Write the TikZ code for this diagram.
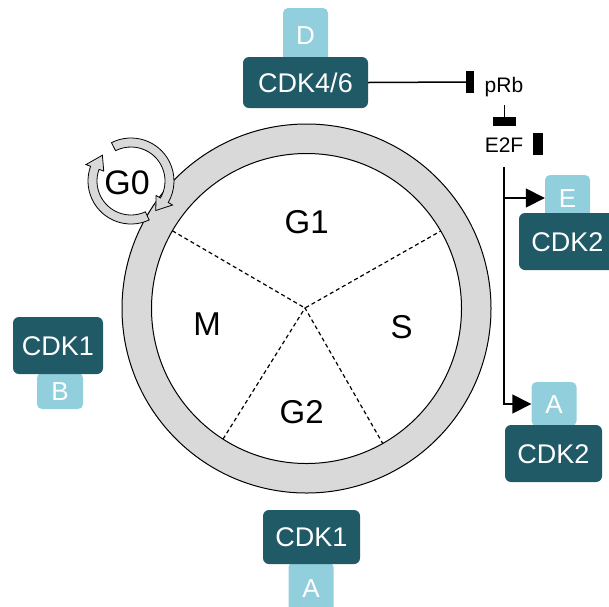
\documentclass[tikz,border=0pt]{standalone}
\usepackage{fontspec}
\setmainfont{Liberation Sans}
\usetikzlibrary{arrows.meta}
\definecolor{tealdark}{HTML}{1F5A66}
\definecolor{lblue}{HTML}{92CFDC}
\definecolor{ringgray}{HTML}{D9D9D9}
\begin{document}
\begin{tikzpicture}[x=1pt,y=-1pt,
  darkbox/.style={rectangle, rounded corners=6pt, fill=tealdark, text=white, inner sep=0pt,
    font=\fontsize{27}{32}\selectfont, text height=19.3pt, text depth=0pt},
  lightbox/.style={rectangle, rounded corners=5pt, fill=lblue, text=white, inner sep=0pt,
    font=\fontsize{26}{31}\selectfont, text height=18.6pt, text depth=0pt, minimum width=45pt},
  phase/.style={font=\fontsize{33}{40}\selectfont, text height=23.6pt, text depth=0pt, inner sep=0pt},
  smalltxt/.style={font=\fontsize{21}{25}\selectfont, text height=15pt, text depth=0pt, inner sep=0pt},
  barbox/.style={rectangle, fill=black, inner sep=0pt},
  conn/.style={line width=1.5pt},
  divider/.style={line width=1.2pt, dash pattern=on 4pt off 3pt},
  g0arrow/.style={fill=ringgray, draw=black, line width=0.8pt},
  tipA/.style={-{Triangle[length=19pt,width=19pt]}}
]
\clip (0,0) rectangle (609,606);

% cell cycle ring
\coordinate (c) at (306.5,308.5);
\fill[ringgray, even odd rule] (c) circle[radius=184.5pt] (c) circle[radius=155pt];
\draw[line width=1pt] (c) circle[radius=184.5pt];
\draw[line width=1pt] (c) circle[radius=155pt];

% dividers
\coordinate (hub) at (305,308);
\coordinate (d1) at (172.4,230.8);
\coordinate (d2) at (440.7,231);
\coordinate (d3) at (223,439.1);
\coordinate (d4) at (382.7,443.4);
\draw[divider] (d1) -- (hub) -- (d2);
\draw[divider] (d3) -- (hub) -- (d4);

% phase labels
\node[phase] (g1) at (306.7,221.7) {G1};
\node[phase] (m) at (207,324) {M};
\node[phase] (s) at (401.7,326.7) {S};
\node[phase] (g2) at (301.7,411.7) {G2};

% G0 circular arrows
\begin{scope}[shift={(131,181)}, yscale=-1]
  \path[g0arrow] (117:43) arc[start angle=117, end angle=-30, radius=43]
     -- (-30:48) -- (-50:38.5) -- (-30:29) -- (-30:34)
     arc[start angle=-30, end angle=117, radius=34] -- cycle;
  \path[g0arrow] (-65:43) arc[start angle=-65, end angle=-200, radius=43]
     -- (-200:48) -- (-222:38.5) -- (-200:29) -- (-200:34)
     arc[start angle=-200, end angle=-65, radius=34] -- cycle;
\end{scope}
\node[phase, font=\fontsize{34}{40}\selectfont, text height=24.3pt] (g0) at (127,182) {G0};

% complexes
\node[lightbox, minimum height=54pt] (dbox) at (305.5,35) {D};
\node[darkbox, minimum width=125pt, minimum height=51pt] (cdk46) at (305.5,82.5) {CDK4/6};

\node[lightbox, minimum height=46pt] (ebox) at (567.5,198) {E};
\node[darkbox, minimum width=97pt, minimum height=57pt] (cdk2a) at (567.5,241.5) {CDK2};

\node[lightbox, minimum height=44pt] (abox) at (554,404) {A};
\node[darkbox, minimum width=97pt, minimum height=57pt] (cdk2b) at (553.5,453.5) {CDK2};

\node[lightbox, minimum width=46pt, minimum height=36pt] (bbox) at (60,391) {B};
\node[darkbox, minimum width=90pt, minimum height=57pt] (cdk1a) at (58,345.5) {CDK1};

\node[lightbox, minimum height=52pt] (abox2) at (311,588) {A};
\node[darkbox, minimum width=97pt, minimum height=54pt] (cdk1b) at (311.5,537) {CDK1};

% pRb / E2F
\node[barbox, minimum width=8pt, minimum height=22pt] (prbbar) at (470,82) {};
\node[smalltxt] (prb) at (504,84.7) {pRb};
\node[barbox, minimum width=23pt, minimum height=9pt] (tbar) at (504.5,121.5) {};
\node[smalltxt] (e2f) at (504,145) {E2F};
\node[barbox, minimum width=10pt, minimum height=22pt] (e2fbar) at (538,144) {};

\draw[conn] (cdk46.east) -- (prbbar.west);
\coordinate (prbfoot) at (504.5,105);
\draw[conn] (prbfoot) -- (tbar.north);

\coordinate (trunk) at (504,167);
\draw[conn, tipA] (trunk) |- (abox.west);
\draw[conn, tipA] (trunk |- ebox.west) -- (ebox.west);
\end{tikzpicture}
\end{document}
